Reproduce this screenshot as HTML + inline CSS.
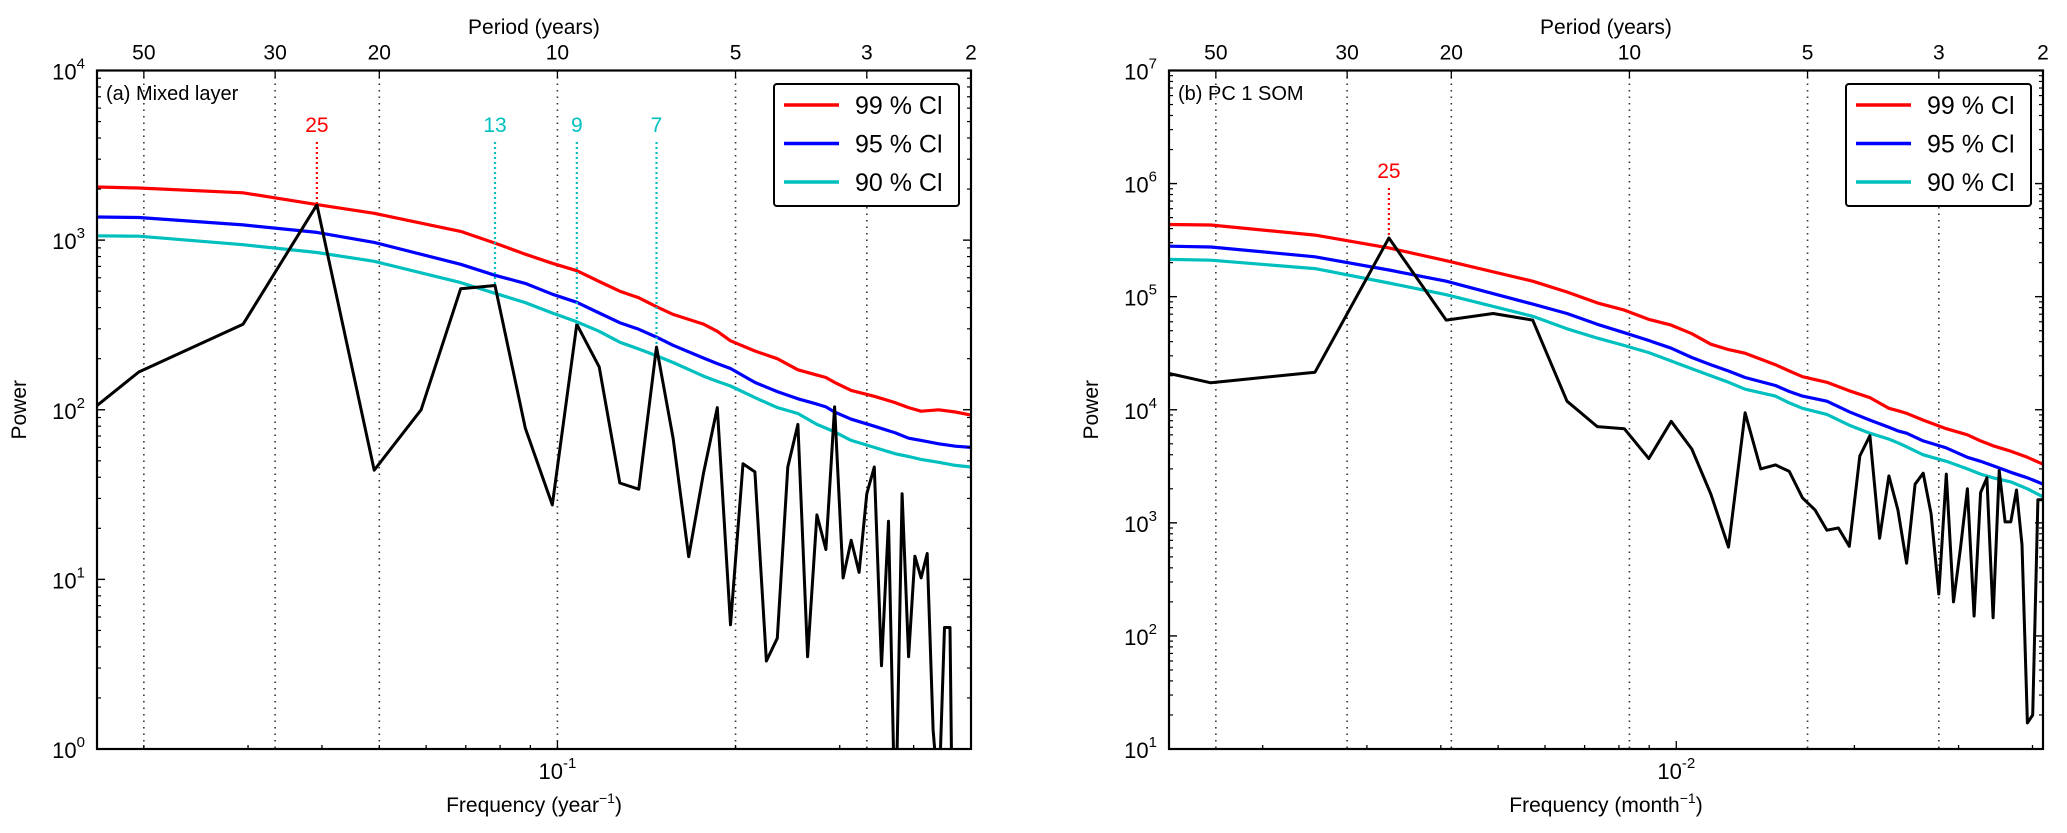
<!DOCTYPE html>
<html><head><meta charset="utf-8"><style>
html,body{margin:0;padding:0;background:#fff;width:2067px;height:833px;overflow:hidden;}
svg{display:block;font-family:"Liberation Sans","DejaVu Sans",sans-serif;}
</style></head><body>
<svg id="fig" width="2067" height="833" viewBox="0 0 2067 833" xmlns="http://www.w3.org/2000/svg"></svg>
<script>
// ---------- DATA ----------
const specA = [24,167,319,1615,44,100,517,540,78,27.5,319,179,37,34,234,68,13.6,42,103,5.4,48,43,3.3,4.5,46,82,3.5,24,15,104,10.2,17,11,32,46,3.1,22,0.3,32,3.5,13.7,10.2,14.2,1.3,0.5,5.2,5.2,0.01,0.01,0.01,0.01];
const specB = [39000,17300,21500,330000,62000,71000,62000,11900,7100,6800,3700,7900,4500,1800,610,9400,3000,3250,2850,1660,1300,860,900,620,3900,5900,730,2600,1300,440,2200,2750,1200,235,2700,200,600,2000,150,1850,2500,145,2900,1020,1020,1950,640,17,20,1600,1600];
const ciK = [1,2,3,4,5,7,8,9,10,11,12,13,14,15,16,18,19,20,22,24,26,28,29,30,32,35,38,40,42,45,48,51];
const ci99A = [2150,2030,1900,1620,1440,1125,961,826,730,660,570,500,457,405,365,320,290,255,222,200,172,160,155,145,130,120,110,103,98,100,97,93];
const ci95A = [1400,1360,1230,1110,970,720,620,556,480,430,372,326,298,268,240,202,187,175,145,128,116,108,104,97,88,80,73,68,66,63,61,60];
const ci90A = [1080,1055,940,845,750,562,486,428,372,330,290,250,228,208,190,158,147,138,118,103,95,82,78,74,66,60,55,53,51,49,47,46];
const ci99B = [450000,430000,350000,270000,208000,137000,110000,88000,76000,63000,56000,47000,38000,34000,31600,25000,22000,19600,17500,14700,12800,10300,9800,9300,8100,6800,6000,5300,4800,4300,3800,3300];
const ci95B = [295000,275000,225000,172000,137000,86000,71000,57000,48000,41000,35000,29000,25000,22000,19300,16400,14500,13200,11900,9600,8100,7000,6500,6200,5300,4600,3800,3500,3200,2800,2500,2200];
const ci90B = [225000,210000,177000,132000,104000,67000,52000,43000,37000,32000,27000,23000,20000,17500,15200,13200,11500,10300,9100,7300,6200,5500,5100,4700,4000,3500,3000,2700,2500,2300,2000,1700];
const periods = [50,30,20,10,5,3,2];
const gridPeriods = [50,30,20,10,5,3];
const legendLabels = ["99 % Cl","95 % Cl","90 % Cl"];
const legendColors = ["#ff0000","#0000ff","#00bfbf"];
const annA = [[4,"25","#ff0000"],[8,"13","#00bfbf"],[11,"9","#00bfbf"],[15,"7","#00bfbf"]];
const annB = [[4,"25","#ff0000"]];

const NS="http://www.w3.org/2000/svg";
const svg=document.getElementById('fig');
function mk(tag,attrs,parent){const e=document.createElementNS(NS,tag);for(const k in attrs)e.setAttribute(k,attrs[k]);(parent||svg).appendChild(e);return e;}

function panel(opt){
  const L=opt.left,T=70.5,W=874,H=678.5,R=L+W,B=T+H;
  const kMin=1.7,kMax=51, N=102;
  const xs=k=>L+(Math.log10(k)-Math.log10(kMin))/(Math.log10(kMax)-Math.log10(kMin))*W;
  const ys=v=>B-(Math.log10(v)-opt.yMin)/(opt.yMax-opt.yMin)*H;
  const g=mk('g',{});
  
  
  const cid='clip'+opt.name;
  const cp=mk('clipPath',{id:cid},g);mk('rect',{x:L,y:T,width:W,height:H},cp);
  gridPeriods.forEach(p=>{
    const l=mk('line',{x1:xs(N/p),x2:xs(N/p),y1:T,y2:B,stroke:'#333','stroke-width':1.6,'stroke-dasharray':'1.5,5'},g);
    
    
  });
  const dg=mk('g',{'clip-path':'url(#'+cid+')'},g);
  function line(ks,vals,color,name,w){
    const d=ks.map((k,i)=>(i?'L':'M')+xs(k).toFixed(1)+','+ys(Math.max(vals[i],1e-6)).toFixed(1)).join('');
    const p=mk('path',{d:d,fill:'none',stroke:color,'stroke-width':w,'stroke-linejoin':'round'},dg);
    
    
  }
  const kAll=opt.spec.map((_,i)=>i+1);
  line(ciK,opt.c90,legendColors[2],'ci-90-line',3.2);
  line(ciK,opt.c95,legendColors[1],'ci-95-line',3.2);
  line(ciK,opt.c99,legendColors[0],'ci-99-line',3.2);
  line(kAll,opt.spec,'#000','power-spectrum-line',3);
  opt.ann.forEach(a=>{
    const k=a[0],x=xs(k),yv=ys(opt.spec[k-1]);
    const ly=opt.annY;
    const l=mk('line',{x1:x,x2:x,y1:ly+10,y2:yv,stroke:a[2],'stroke-width':2.2,'stroke-dasharray':'2,3'},g);
    
    
    const t=mk('text',{x:x,y:ly,'text-anchor':'middle','font-size':21,fill:a[2]},g);t.textContent=a[1];
    
    
  });
  const fr=mk('rect',{x:L,y:T,width:W,height:H,fill:'none',stroke:'#000','stroke-width':2.2},g);
  
  
  for(let e=opt.yMin;e<=opt.yMax;e++){
    const y=ys(Math.pow(10,e));
    mk('line',{x1:L,x2:L+8,y1:y,y2:y,stroke:'#000','stroke-width':1.4},g);
    mk('line',{x1:R,x2:R-8,y1:y,y2:y,stroke:'#000','stroke-width':1.4},g);
    const t=mk('text',{x:L-12,y:y+9,'text-anchor':'end','font-size':22},g);
    t.innerHTML='10<tspan dy="-11" font-size="15">'+e+'</tspan>';
    
    
    if(e<opt.yMax)for(let m=2;m<10;m++){const ym=ys(m*Math.pow(10,e));
      mk('line',{x1:L,x2:L+4,y1:ym,y2:ym,stroke:'#000','stroke-width':1.2},g);
      mk('line',{x1:R,x2:R-4,y1:ym,y2:ym,stroke:'#000','stroke-width':1.2},g);}
  }
  const fd=opt.fDec;
  for(let m=1;m<10;m++){[fd/10,fd].forEach(base=>{const k=m*base;if(k<kMin||k>kMax)return;const x=xs(k);
    const len=(m===1)?8:4;mk('line',{x1:x,x2:x,y1:B,y2:B-len,stroke:'#000','stroke-width':1.3},g);});}
  const xt=mk('text',{x:xs(fd),y:B+30,'text-anchor':'middle','font-size':22},g);
  xt.innerHTML='10<tspan dy="-11" font-size="15">'+opt.fExp+'</tspan>';
  
  
  periods.forEach(p=>{const x=xs(N/p);
    mk('line',{x1:x,x2:x,y1:T,y2:T+8,stroke:'#000','stroke-width':1.3},g);
    const t=mk('text',{x:x,y:T-11,'text-anchor':'middle','font-size':21},g);t.textContent=p;
    
    });
  const pt=mk('text',{x:L+W/2,y:34,'text-anchor':'middle','font-size':21},g);pt.textContent='Period (years)';
  
  const ft=mk('text',{x:L+W/2,y:812,'text-anchor':'middle','font-size':21},g);
  ft.innerHTML='Frequency ('+opt.unit+'<tspan dy="-9" font-size="14">−1</tspan><tspan dy="9">)</tspan>';
  
  const yt=mk('text',{x:0,y:0,'text-anchor':'middle','font-size':21,transform:'translate('+(L-71)+','+(T+H/2)+') rotate(-90)'},g);
  yt.textContent='Power';
  const pl=mk('text',{x:L+9,y:100,'font-size':20},g);pl.textContent=opt.title;
  
  const lx=R-197,ly=84;
  const lg=mk('g',{},g);
  mk('rect',{x:lx,y:ly,width:185,height:122,rx:3,fill:'#fff',stroke:'#000','stroke-width':2},lg);
  legendLabels.forEach((s,i)=>{const y=ly+21+i*38.5;
    const e=mk('g',{},lg);
    mk('line',{x1:lx+10,x2:lx+65,y1:y,y2:y,stroke:legendColors[i],'stroke-width':3.5},e);
    const t=mk('text',{x:lx+81,y:y+9,'font-size':25},e);t.textContent=s;});
}
panel({name:'panel-a',left:97,yMin:0,yMax:4,spec:specA,c99:ci99A,c95:ci95A,c90:ci90A,ann:annA,annY:132,fDec:10.2,fExp:'-1',unit:'year',title:'(a) Mixed layer'});
panel({name:'panel-b',left:1169,yMin:1,yMax:7,spec:specB,c99:ci99B,c95:ci95B,c90:ci90B,ann:annB,annY:178,fDec:12.24,fExp:'-2',unit:'month',title:'(b) PC 1 SOM'});
</script>
</body></html>
